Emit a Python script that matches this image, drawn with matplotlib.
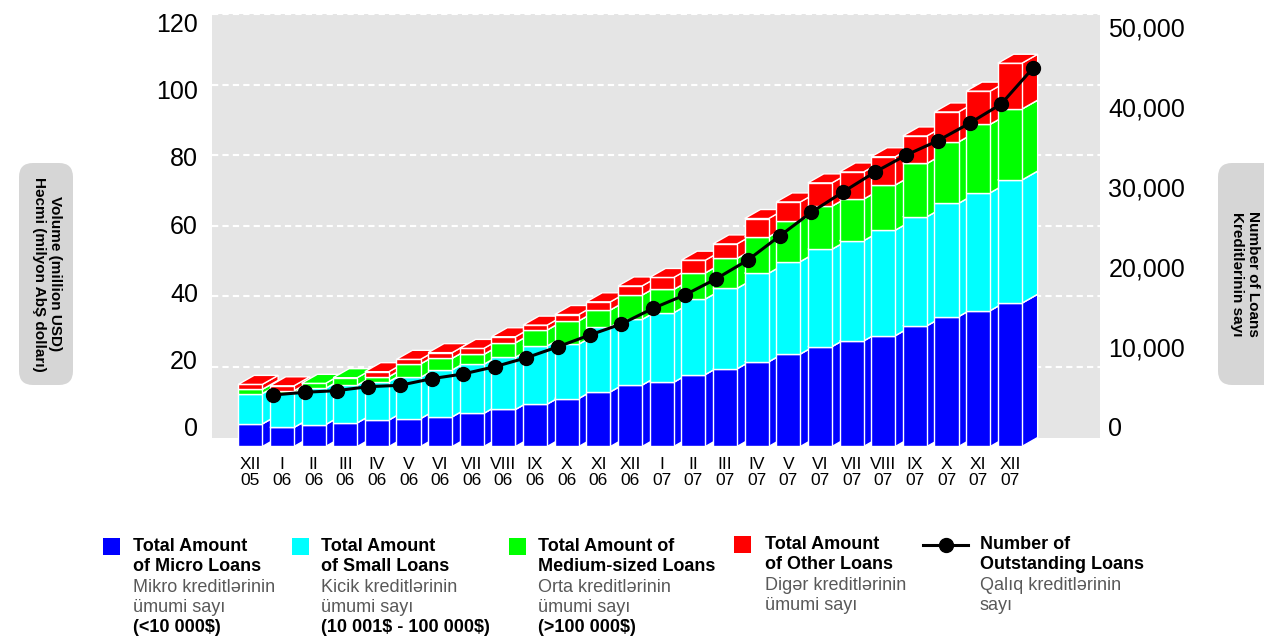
import matplotlib.pyplot as plt
import numpy as np
from matplotlib.patches import Polygon, FancyBboxPatch, Rectangle
from matplotlib.lines import Line2D
from matplotlib import transforms

plt.rcParams['font.family'] = ['Liberation Sans', 'DejaVu Sans']

# months XII 05 .. XII 07
months = ['XII\n05', 'I\n06', 'II\n06', 'III\n06', 'IV\n06', 'V\n06', 'VI\n06',
          'VII\n06', 'VIII\n06', 'IX\n06', 'X\n06', 'XI\n06', 'XII\n06',
          'I\n07', 'II\n07', 'III\n07', 'IV\n07', 'V\n07', 'VI\n07', 'VII\n07',
          'VIII\n07', 'IX\n07', 'X\n07', 'XI\n07', 'XII\n07']

# million USD
micro = [6.4, 5.4, 6.2, 6.7, 7.5, 7.9, 8.4, 9.4, 10.5, 12.0, 13.6, 15.5, 17.4,
         18.2, 20.4, 22.0, 24.0, 26.2, 28.3, 29.9, 31.4, 34.2, 36.8, 38.5, 40.6]
small = [8.6, 9.8, 10.3, 10.7, 10.9, 11.7, 13.3, 13.9, 14.8, 16.5, 15.4, 18.4, 18.6,
         19.7, 21.4, 22.8, 25.1, 26.2, 27.6, 28.4, 29.9, 30.9, 32.1, 33.4, 34.9]
medium = [1.2, 0.6, 1.4, 2.1, 1.4, 3.8, 3.3, 2.8, 4.1, 4.5, 6.6, 4.8, 6.9,
          6.6, 7.4, 8.5, 10.3, 11.6, 12.2, 11.8, 12.8, 15.1, 17.4, 19.4, 20.1]
other = [1.4, 1.4, 0.0, 0.0, 1.4, 1.3, 1.6, 1.7, 1.7, 1.4, 1.8, 2.3, 2.6,
         3.4, 3.6, 4.1, 5.2, 5.3, 6.6, 7.7, 8.0, 7.8, 8.5, 9.4, 13.0]
# number of outstanding loans
loans = [5020, 5340, 5530, 6000, 6160, 6940, 7500, 8360, 9420, 10720, 12100, 13400,
         15250, 16820, 18750, 20960, 23790, 26590, 28980, 31310, 33350, 35040,
         37100, 39370, 43590]

left_ticks = [0, 20, 40, 60, 80, 100, 120]
right_ticks = [0, 10000, 20000, 30000, 40000, 50000]

colors = ['#0000ff', '#00ffff', '#00ff00', '#ff0000']

W, H = 1264, 636
fig = plt.figure(figsize=(W / 100, H / 100), dpi=100)


def box(x0, y0, x1, y1):
    return [x0 / W, 1 - y1 / H, (x1 - x0) / W, (y1 - y0) / H]


ax = fig.add_axes(box(212, 14, 1100, 437.5))
ax.set_facecolor('#e5e5e5')
for s in ax.spines.values():
    s.set_visible(False)
ax.set_xlim(-1.21, 26.85)
ax.set_ylim(0, 120)
ax.set_yticks([])
for g in left_ticks[1:]:
    ax.axhline(g, color='white', lw=1.5, ls=(0, (3, 2)), zorder=1)

ax.set_xticks(range(len(months)))
ax.set_xticklabels(months, fontsize=12.5, linespacing=1.05,
                   family=['Liberation Sans Narrow', 'Liberation Sans'])
ax.tick_params(axis='x', length=0, pad=14)

# pseudo-3D stacked bars
bw, dx, dy = 0.76, 0.5, 2.55
for i in range(len(months)):
    base = 0
    for vals, c in zip([micro, small, medium, other], colors):
        h = vals[i]
        if h <= 0:
            continue
        top = base + h
        l, r = i - bw / 2, i + bw / 2
        side = [(r, base - dy), (r + dx, base), (r + dx, top), (r, top - dy)]
        front = [(l, base - dy), (r, base - dy), (r, top - dy), (l, top - dy)]
        lid = [(l, top - dy), (r, top - dy), (r + dx, top), (l + dx, top)]
        for pts in (side, front, lid):
            ax.add_patch(Polygon(pts, closed=True, fc=c, ec='white', lw=1,
                                 clip_on=False, zorder=2, joinstyle='miter'))
        base = top

axr = ax.twinx()
axr.set_ylim(0, 50000)
axr.set_yticks([])
for s in axr.spines.values():
    s.set_visible(False)
shift = transforms.ScaledTranslation(0.23, 0, fig.dpi_scale_trans)
axr.plot(range(len(loans)), loans, color='black', lw=2.2, marker='o', ms=10,
         clip_on=False, transform=axr.transData + shift, zorder=5)

# tick label axes
axl = fig.add_axes(box(212, 22, 1100, 427))
axl.set_ylim(0, 120)
axl.set_yticks(left_ticks)
axl.set_yticklabels([str(t) for t in left_ticks], fontsize=18)
axl.tick_params(axis='y', length=0, pad=10)
axl.set_xticks([])
axl.patch.set_visible(False)
for s in axl.spines.values():
    s.set_visible(False)

axr2 = fig.add_axes(box(212, 27, 1100, 427))
axr2.set_ylim(0, 50000)
axr2.yaxis.tick_right()
axr2.set_yticks(right_ticks)
axr2.set_yticklabels([f'{t:,}' for t in right_ticks], fontsize=18)
axr2.tick_params(axis='y', length=0, pad=6)
axr2.set_xticks([])
axr2.patch.set_visible(False)
for s in axr2.spines.values():
    s.set_visible(False)

# side titles in rounded boxes
ident = transforms.IdentityTransform()
for x0, x1 in [(19, 73), (1218, 1290)]:
    fig.add_artist(FancyBboxPatch((x0, H - 385), x1 - x0, 222,
                                  boxstyle='round,pad=0,rounding_size=14',
                                  fc='#d6d6d6', ec='none', transform=ident))
fig.text(47 / W, 1 - 274 / H, 'Volume (million USD)\nHəcmi (milyon AbŞ dolları)',
         rotation=-90, ha='center', va='center', fontsize=11, fontweight='bold',
         linespacing=1.15)
fig.text(1245 / W, 1 - 274 / H, 'Number of Loans\nKreditlərinin sayı',
         rotation=-90, ha='center', va='center', fontsize=11, fontweight='bold',
         linespacing=1.15)

# legend
legend_items = [
    (['Total Amount', 'of Micro Loans'], ['Mikro kreditlərinin', 'ümumi sayı'], [r'(<10 000\$)']),
    (['Total Amount', 'of Small Loans'], ['Kicik kreditlərinin', 'ümumi sayı'], [r'(10 001\$ - 100 000\$)']),
    (['Total Amount of', 'Medium-sized Loans'], ['Orta kreditlərinin', 'ümumi sayı'], [r'(>100 000\$)']),
    (['Total Amount', 'of Other Loans'], ['Digər kreditlərinin', 'ümumi sayı'], []),
    (['Number of', 'Outstanding Loans'], ['Qalıq kreditlərinin', 'sayı'], []),
]
sym_x = [103, 292, 509, 734]
sym_y = [538, 538, 538, 536]
text_x = [133, 321, 538, 765, 980]
for k, (bold1, grey, bold2) in enumerate(legend_items):
    if k < 4:
        fig.add_artist(Rectangle((sym_x[k] / W, 1 - (sym_y[k] + 17) / H), 17 / W, 17 / H,
                                 fc=colors[k], ec='none', transform=fig.transFigure))
    else:
        fig.add_artist(Line2D([923 / W, 968 / W], [1 - 545 / H] * 2, color='black',
                              lw=2.2, transform=fig.transFigure))
        fig.add_artist(Line2D([946 / W], [1 - 545 / H], color='black', marker='o',
                              ms=10, transform=fig.transFigure))
    lines = [(t, 'black', 'bold') for t in bold1] + \
            [(t, '#595959', 'normal') for t in grey] + \
            [(t, 'black', 'bold') for t in bold2]
    top = 549 if k in (3, 4) else 551
    for j, (t, c, fw) in enumerate(lines):
        fig.text(text_x[k] / W, 1 - (top + 20.3 * j) / H, t, color=c,
                 fontweight=fw, fontsize=13, va='baseline', ha='left')

fig.savefig('out.png', dpi=100)
